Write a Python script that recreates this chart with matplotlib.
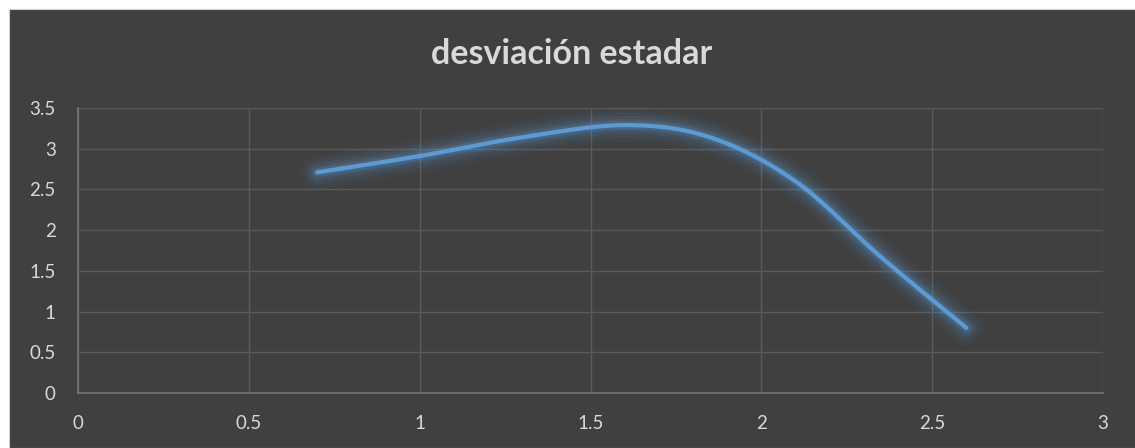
import numpy as np
import matplotlib
matplotlib.use("Agg")
import matplotlib.pyplot as plt
from matplotlib.patches import Rectangle

# values
x_pts = [0.7, 1.0, 1.3, 1.6, 1.85, 2.1, 2.35, 2.6]
y_pts = [2.71, 2.91, 3.14, 3.29, 3.14, 2.60, 1.67, 0.80]

x_ticks = [0, 0.5, 1, 1.5, 2, 2.5, 3]
y_ticks = [0, 0.5, 1, 1.5, 2, 2.5, 3, 3.5]
title = "desviación estadar"


def catmull_rom(xs, ys, n=60):
    # smooth curve through the points, similar to spreadsheet smoothing
    p = np.column_stack([xs, ys]).astype(float)
    p = np.vstack([p[0] - (p[1] - p[0]), p, p[-1] + (p[-1] - p[-2])])
    out = []
    t = np.linspace(0, 1, n)[:, None]
    for i in range(1, len(p) - 2):
        p0, p1, p2, p3 = p[i - 1], p[i], p[i + 1], p[i + 2]
        seg = 0.5 * ((2 * p1) + (-p0 + p2) * t + (2 * p0 - 5 * p1 + 4 * p2 - p3) * t**2
                     + (-p0 + 3 * p1 - 3 * p2 + p3) * t**3)
        out.append(seg if i == 1 else seg[1:])
    out = np.vstack(out)
    return out[:, 0], out[:, 1]


W, H = 1135, 448
fig = plt.figure(figsize=(W / 100, H / 100), dpi=100)
fig.patch.set_facecolor("white")
fig.patches.append(Rectangle((9 / W, 0), 1, 1 - 9 / H, transform=fig.transFigure,
                             facecolor="#404040", edgecolor="#d0d0d0", linewidth=0.8, zorder=-5))

ax = fig.add_axes([78 / W, (H - 393) / H, (1103 - 78) / W, (393 - 108) / H])
ax.set_facecolor("#404040")

sx, sy = catmull_rom(x_pts, y_pts)
# soft glow around the line
for lw, a in [(24, 0.05), (18, 0.07), (13, 0.09), (9, 0.13), (6, 0.18)]:
    ax.plot(sx, sy, color="#5b9bd5", lw=lw, alpha=a, solid_capstyle="round", zorder=2)
ax.plot(sx, sy, color="#5b9bd5", lw=3.0, solid_capstyle="round", zorder=3)

ax.set_xlim(0, 3)
ax.set_ylim(0, 3.5)
ax.set_xticks(x_ticks)
ax.set_yticks(y_ticks)
ax.set_xticklabels([f"{v:g}" for v in x_ticks])
ax.set_yticklabels([f"{v:g}" for v in y_ticks])
ax.grid(True, color="#5a5a5a", lw=1.0)
ax.set_axisbelow(True)
for s in ["top", "right"]:
    ax.spines[s].set_visible(False)
for s in ["left", "bottom"]:
    ax.spines[s].set_color("#757575")
    ax.spines[s].set_linewidth(1.2)
ax.tick_params(length=0, colors="#d9d9d9", labelsize=13.5)
ax.tick_params(axis="y", pad=16)
ax.tick_params(axis="x", pad=16)
for lab in ax.get_xticklabels() + ax.get_yticklabels():
    lab.set_family("Lato")

fig.text(572 / W, 1 - 54 / H, title, ha="center", va="center", color="#d9d9d9",
         fontsize=24.5, fontweight="bold", family="Lato")

fig.savefig("out.png", dpi=100, facecolor=fig.get_facecolor())
